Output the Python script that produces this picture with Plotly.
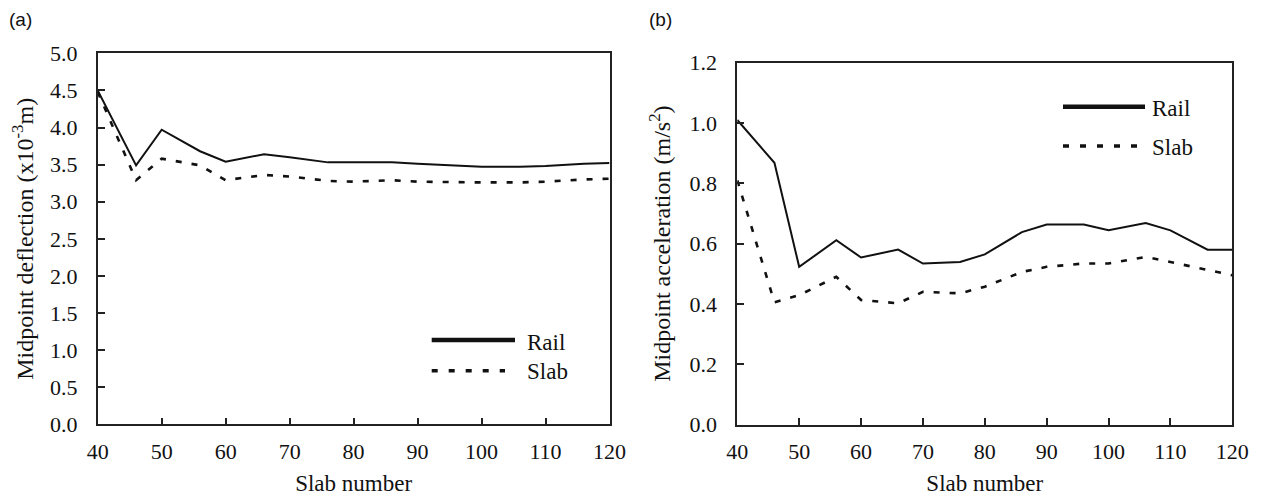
import plotly.graph_objects as go

W, H = 1264, 498

# ---------------- data ----------------
slab_numbers = [40, 46, 50, 56, 60, 66, 70, 76, 80, 86, 90, 96, 100, 106, 110, 116, 120]

rail_deflection = [4.50, 3.49, 3.97, 3.68, 3.54, 3.64, 3.60, 3.53, 3.53, 3.53, 3.51, 3.49, 3.47, 3.47, 3.48, 3.51, 3.52]
slab_deflection = [4.48, 3.29, 3.58, 3.49, 3.29, 3.36, 3.34, 3.28, 3.27, 3.29, 3.27, 3.26, 3.26, 3.26, 3.27, 3.30, 3.31]

rail_acceleration = [1.01, 0.868, 0.523, 0.611, 0.554, 0.580, 0.534, 0.539, 0.564, 0.638, 0.663, 0.663, 0.644, 0.668, 0.644, 0.580, 0.580]
slab_acceleration = [0.81, 0.405, 0.429, 0.490, 0.413, 0.402, 0.440, 0.435, 0.457, 0.506, 0.523, 0.534, 0.534, 0.556, 0.539, 0.512, 0.495]

series_names = ["Rail", "Slab"]
panel_labels = ["(a)", "(b)"]
x_title = "Slab number"
y_titles = ["Midpoint deflection (x10<sup>-3</sup>m)", "Midpoint acceleration (m/s<sup>2</sup>)"]

# ---------------- styling ----------------
SERIF = "Liberation Serif"
FS = 22
INK = "#111111"
AXC = "#222222"
DASH = "6px,10px"


def px(x):
    return x / W


def py(y):
    return 1 - y / H


fig = go.Figure()

fig.add_trace(go.Scatter(x=slab_numbers, y=rail_deflection, mode="lines", name=series_names[0],
                         line=dict(color=INK, width=2), xaxis="x", yaxis="y", showlegend=False))
fig.add_trace(go.Scatter(x=slab_numbers, y=slab_deflection, mode="lines", name=series_names[1],
                         line=dict(color=INK, width=2.6, dash=DASH), xaxis="x", yaxis="y", showlegend=False))
fig.add_trace(go.Scatter(x=slab_numbers, y=rail_acceleration, mode="lines", name=series_names[0],
                         line=dict(color=INK, width=2), xaxis="x2", yaxis="y2", showlegend=False))
fig.add_trace(go.Scatter(x=slab_numbers, y=slab_acceleration, mode="lines", name=series_names[1],
                         line=dict(color=INK, width=2.6, dash=DASH), xaxis="x2", yaxis="y2", showlegend=False))

common_axis = dict(
    showline=True, mirror=True, linecolor=AXC, linewidth=1.6,
    ticks="inside", ticklen=7, tickwidth=1.6, tickcolor=AXC,
    showgrid=False, zeroline=False, automargin=False,
    tickfont=dict(family=SERIF, size=FS, color=INK),
)

xa = dict(common_axis, range=[40, 120], tick0=40, dtick=10, ticklabelstandoff=6,
          title=dict(text=x_title, font=dict(family=SERIF, size=FS + 1, color=INK), standoff=12))

fig.update_layout(
    width=W, height=H,
    margin=dict(l=0, r=0, t=0, b=0),
    paper_bgcolor="white", plot_bgcolor="white",
    xaxis=dict(xa, domain=[px(97.7), px(609.5)], anchor="y"),
    yaxis=dict(common_axis, domain=[py(424.3), py(53.3)], anchor="x", range=[0, 5], tick0=0, dtick=0.5,
               tickformat=".1f", ticklabelstandoff=14,
               title=dict(text=y_titles[0], font=dict(family=SERIF, size=24, color=INK), standoff=10)),
    xaxis2=dict(xa, domain=[px(737.3), px(1232.3)], anchor="y2"),
    yaxis2=dict(common_axis, domain=[py(424.5), py(62.7)], anchor="x2", range=[0, 1.2], tick0=0, dtick=0.2,
                tickformat=".1f", ticklabelstandoff=14,
                title=dict(text=y_titles[1], font=dict(family=SERIF, size=24, color=INK), standoff=12)),
    showlegend=False,
)

# panel labels
for label, xpos in zip(panel_labels, [7, 647]):
    fig.add_annotation(text=label, x=px(xpos), y=py(19), xref="paper", yref="paper",
                       xanchor="left", yanchor="middle", showarrow=False,
                       font=dict(family="Liberation Sans", size=19, color=INK))

# legends (drawn as keys inside each panel)
legend_specs = [
    dict(rx0=431.7, rx1=515, ry=340, sx0=431.7, sx1=505, sy=370.7, tx=525),
    dict(rx0=1063, rx1=1145, ry=106.7, sx0=1063, sx1=1137, sy=146, tx=1150),
]
for spec in legend_specs:
    fig.add_shape(type="line", xref="paper", yref="paper",
                  x0=px(spec["rx0"]), x1=px(spec["rx1"]), y0=py(spec["ry"]), y1=py(spec["ry"]),
                  line=dict(color=INK, width=4.5))
    fig.add_shape(type="line", xref="paper", yref="paper",
                  x0=px(spec["sx0"]), x1=px(spec["sx1"]), y0=py(spec["sy"]), y1=py(spec["sy"]),
                  line=dict(color=INK, width=3.5, dash="6px,11px"))
    fig.add_annotation(text=series_names[0], x=px(spec["tx"]), y=py(spec["ry"] + 2), xref="paper", yref="paper",
                       xanchor="left", yanchor="middle", showarrow=False,
                       font=dict(family=SERIF, size=FS + 1, color=INK))
    fig.add_annotation(text=series_names[1], x=px(spec["tx"]), y=py(spec["sy"] + 1), xref="paper", yref="paper",
                       xanchor="left", yanchor="middle", showarrow=False,
                       font=dict(family=SERIF, size=FS + 1, color=INK))

fig.write_html("out.html")
